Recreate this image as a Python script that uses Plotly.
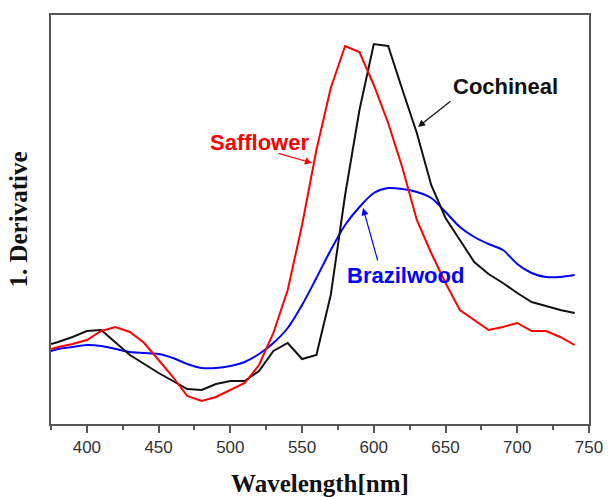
import plotly.graph_objects as go

wavelength = [375, 380, 390, 400, 410, 420, 430, 440, 450, 460, 470, 480, 490, 500,
              510, 520, 530, 540, 550, 560, 570, 580, 590, 600, 610, 620, 630, 640,
              650, 660, 670, 680, 690, 700, 710, 720, 730, 740]

safflower = [75, 77, 80, 84, 93, 97, 92, 81, 64, 47, 28, 23, 27, 34,
             41, 59, 91, 134, 199, 274, 336, 378, 372, 339, 301, 256, 204, 171,
             141, 114, 104, 94, 97, 101, 93, 93, 87, 79]

cochineal = [80, 82, 87, 93, 94, 81, 69, 60, 51, 43, 35, 34, 40, 43,
             43, 53, 73, 81, 65, 69, 129, 229, 314, 380, 378, 334, 291, 239,
             206, 184, 162, 150, 141, 131, 122, 118, 114, 111]

brazilwood = [73, 75, 77, 79, 78, 75, 72, 71, 70, 66, 60, 56, 56, 58,
              62, 70, 81, 96, 119, 146, 174, 199, 217, 231, 236, 235, 232, 226,
              212, 197, 187, 180, 174, 160, 151, 147, 147, 149]

x_ticks = [400, 450, 500, 550, 600, 650, 700, 750]

fig = go.Figure()
fig.add_trace(go.Scatter(x=wavelength, y=brazilwood, mode="lines",
                         line=dict(color="#0000ff", width=2, shape="spline", smoothing=0.8),
                         name="Brazilwood"))
fig.add_trace(go.Scatter(x=wavelength, y=cochineal, mode="lines",
                         line=dict(color="#111111", width=2),
                         name="Cochineal"))
fig.add_trace(go.Scatter(x=wavelength, y=safflower, mode="lines",
                         line=dict(color="#ff0000", width=2),
                         name="Safflower"))

lab_font = dict(family="Liberation Sans, Arial, sans-serif", size=22)

# Labels
fig.add_annotation(x=691.5, y=338, text="<b>Cochineal</b>", showarrow=False,
                   font=dict(color="#111111", **lab_font), xref="x", yref="y")
fig.add_annotation(x=520.5, y=282, text="<b>Safflower</b>", showarrow=False,
                   font=dict(color="#ff0000", **lab_font), xref="x", yref="y")
fig.add_annotation(x=622, y=149, text="<b>Brazilwood</b>", showarrow=False,
                   font=dict(color="#0000ff", **lab_font), xref="x", yref="y")

# Arrows
def arrow(x, y, ax, ay, color):
    fig.add_annotation(x=x, y=y, ax=ax, ay=ay, xref="x", yref="y",
                       axref="x", ayref="y", text="", showarrow=True,
                       arrowhead=2, arrowsize=1.2, arrowwidth=1.2, arrowcolor=color)

arrow(630.8, 297, 654.5, 324, "#111111")
arrow(557, 261, 532.5, 271, "#ff0000")
arrow(592.5, 216, 603, 162, "#0000ff")

serif = "Liberation Serif, Times New Roman, serif"

fig.update_layout(
    width=608, height=497,
    margin=dict(l=51, r=19, t=15, b=73),
    plot_bgcolor="white", paper_bgcolor="white",
    showlegend=False,
    xaxis=dict(range=[375, 750], tickvals=x_ticks, ticktext=[str(v) for v in x_ticks],
               showgrid=False, zeroline=False, automargin=False,
               showline=True, linecolor="#555555", linewidth=2, mirror=True,
               ticks="outside", ticklen=7, tickwidth=1.5, tickcolor="#555555",
               minor=dict(ticks="outside", ticklen=4, tickwidth=1.5, tickcolor="#555555",
                          tickvals=[375, 425, 475, 525, 575, 625, 675, 725]),
               tickfont=dict(family="Liberation Sans, Arial, sans-serif", size=17, color="#333333"),
               title=dict(text="<b>Wavelength[nm]</b>", standoff=26,
                          font=dict(family=serif, size=25, color="#111111"))),
    yaxis=dict(range=[0, 409], showticklabels=False, showgrid=False, zeroline=False,
               automargin=False,
               showline=True, linecolor="#555555", linewidth=2, mirror=True, ticks="",
               title=dict(text="<b>1. Derivative</b>", standoff=14,
                          font=dict(family=serif, size=25, color="#111111"))),
)

fig.write_html("out.html")
